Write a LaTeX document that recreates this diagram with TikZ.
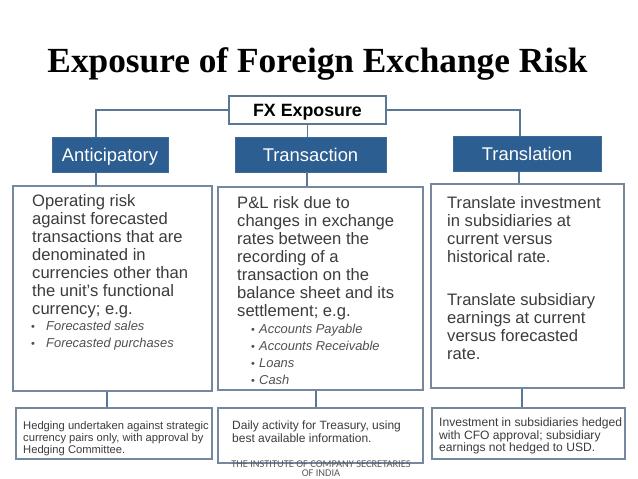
\documentclass[tikz,border=0pt]{standalone}
\usepackage{fontspec}
\setmainfont{Liberation Sans}
\newfontfamily\titlefont{Liberation Serif}
\newfontfamily\footfont{Carlito}
\definecolor{headblue}{HTML}{2C5E91}
\definecolor{headedge}{HTML}{3F6A98}
\definecolor{connblue}{HTML}{5A7896}
\definecolor{boxedge}{HTML}{75889E}
\definecolor{bodytext}{HTML}{3C3C3C}
\definecolor{listtext}{HTML}{505050}
\definecolor{foottext}{HTML}{5A5A5A}
\newcommand{\bul}[1]{\makebox[#1][l]{\upshape\fontsize{11}{11}\selectfont•}}
\tikzset{
  fxbox/.style={draw=connblue, line width=1.4pt, fill=white, minimum width=157pt, minimum height=28pt, inner sep=0pt,
    font=\bfseries\fontsize{17.8}{17.8}\selectfont, text height=12.6pt, text depth=0pt},
  headbox/.style={draw=headedge, line width=0.6pt, fill=headblue, text=white, minimum height=35pt, inner sep=0pt,
    font=\fontsize{18.4}{18.4}\selectfont, text height=13.2pt, text depth=0pt},
  contentbox/.style={draw=boxedge, line width=1.4pt, fill=white, inner sep=0pt},
  conn/.style={draw=connblue, line width=1.4pt},
  bodytxt/.style={anchor=north west, inner sep=0pt, align=left, text=bodytext, font=\fontsize{16.6}{18}\selectfont},
  listtxt/.style={anchor=north west, inner sep=0pt, align=left, text=listtext, font=\itshape\fontsize{12.9}{17.3}\selectfont},
  smalltxt/.style={anchor=north west, inner sep=0pt, align=left, text=bodytext},
}
\begin{document}
\begin{tikzpicture}[x=1pt,y=-1pt]
\useasboundingbox[fill=white] (0,0) rectangle (638,479);

% title
\node[anchor=base, inner sep=0pt, font=\titlefont\bfseries\fontsize{35.3}{40}\selectfont] (title) at (317.5,72) {Exposure of Foreign Exchange Risk};

% top box and headings
\node[fxbox] (fx) at (307.5,110) {FX Exposure};
\node[headbox, minimum width=116pt] (ant) at (110,154.5) {Anticipatory};
\node[headbox, minimum width=151pt] (trn) at (310.5,154.5) {Transaction};
\node[headbox, minimum width=148pt] (trl) at (527,154) {Translation};

% content boxes
\node[contentbox, minimum width=199pt, minimum height=205pt] (box1) at (112.5,288.5) {};
\node[contentbox, minimum width=205pt, minimum height=203pt] (box2) at (320.5,288.5) {};
\node[contentbox, minimum width=193pt, minimum height=204pt] (box3) at (527.5,286) {};

% bottom boxes
\node[contentbox, minimum width=196pt, minimum height=51pt] (bot1) at (114,433.5) {};
\node[contentbox, minimum width=205pt, minimum height=55pt] (bot2) at (320.5,435.5) {};
\node[contentbox, minimum width=193pt, minimum height=51pt] (bot3) at (528.5,433.5) {};

% connectors
\draw[conn] (fx.west) -| ([xshift=-14pt]ant.north);
\draw[conn] (fx.south) -- (fx.south |- trn.north);
\draw[conn] (fx.east) -| ([xshift=-7pt]trl.north);
\draw[conn] ([xshift=-14pt]ant.south) -- ([xshift=-14pt]ant.south |- box1.north);
\draw[conn] ([xshift=-3.5pt]trn.south) -- ([xshift=-3.5pt]trn.south |- box2.north);
\draw[conn] ([xshift=-8pt]trl.south) -- ([xshift=-8pt]trl.south |- box3.north);
\draw[conn] ([xshift=-5.5pt]box1.south) -- ([xshift=-5.5pt]box1.south |- bot1.north);
\draw[conn] ([xshift=-4.5pt]box2.south) -- ([xshift=-4.5pt]box2.south |- bot2.north);
\draw[conn] ([xshift=-5.5pt]box3.south) -- ([xshift=-5.5pt]box3.south |- bot3.north);

% content texts
\node[bodytxt] (t1) at (32,194.5) {Operating risk\\against forecasted\\transactions that are\\denominated in\\currencies other than\\the unit’s functional\\currency; e.g.};
\node[listtxt] (l1) at (31,320.5) {\bul{15pt}Forecasted sales\\\bul{15pt}Forecasted purchases};

\node[bodytxt] (t2) at (237,196.5) {P\&L risk due to\\changes in exchange\\rates between the\\recording of a\\transaction on the\\balance sheet and its\\settlement; e.g.};
\node[listtxt] (l2) at (251,323.5) {\bul{8pt}Accounts Payable\\\bul{8pt}Accounts Receivable\\\bul{8pt}Loans\\\bul{8pt}Cash};

\node[bodytxt] (t3a) at (447,196.5) {Translate investment\\in subsidiaries at\\current versus\\historical rate.};
\node[bodytxt] (t3b) at (447,293.5) {Translate subsidiary\\earnings at current\\versus forecasted\\rate.};

% bottom texts
\node[smalltxt, font=\fontsize{11.2}{11.8}\selectfont] (b1) at (23,421.5) {Hedging undertaken against strategic\\currency pairs only, with approval by\\Hedging Committee.};
\node[smalltxt, font=\fontsize{12}{12.8}\selectfont] (b2) at (232,421) {Daily activity for Treasury, using\\best available information.};
\node[smalltxt, font=\fontsize{12.1}{12.4}\selectfont] (b3) at (439,418) {Investment in subsidiaries hedged\\with CFO approval; subsidiary\\earnings not hedged to USD.};

% footer
\node[anchor=base, inner sep=0pt, text=foottext, font=\footfont\fontsize{10.4}{10.4}\selectfont] (foot1) at (321,467) {THE INSTITUTE OF COMPANY SECRETARIES};
\node[anchor=base, inner sep=0pt, text=foottext, font=\footfont\fontsize{10.4}{10.4}\selectfont] (foot2) at (321,476) {OF INDIA};
\end{tikzpicture}
\end{document}
